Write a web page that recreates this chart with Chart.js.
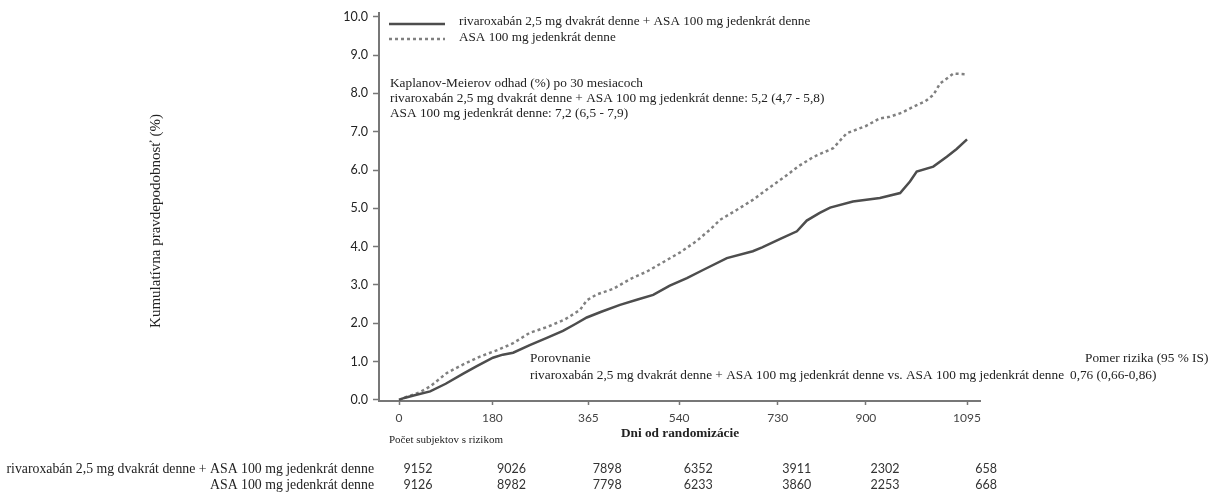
<!DOCTYPE html>
<html>
<head>
<meta charset="utf-8">
<script src="https://cdn.jsdelivr.net/npm/chart.js@4"></script>
<style>
html,body{margin:0;padding:0;background:#fff;}
#wrap{width:1208px;height:495px;position:relative;}
</style>
</head>
<body>
<div id="wrap"><canvas id="c" width="1208" height="495"></canvas></div>
<script>
// ---- data ----
const xTicks = [0, 180, 365, 540, 730, 900, 1095];
const yTicks = [0, 1, 2, 3, 4, 5, 6, 7, 8, 9, 10];

const rivaDays = [0, 10, 30, 60, 90, 123, 150, 181, 200, 220, 252, 285, 316, 340, 362, 390, 426, 460, 490, 522, 555, 586, 632, 682, 700, 735, 767, 786, 811, 831, 875, 927, 966, 985, 998, 1030, 1056, 1075, 1095];
const rivaVals = [0, 0.05, 0.12, 0.22, 0.42, 0.68, 0.88, 1.1, 1.18, 1.23, 1.43, 1.62, 1.8, 1.98, 2.15, 2.3, 2.48, 2.62, 2.74, 2.98, 3.18, 3.39, 3.7, 3.88, 3.98, 4.2, 4.4, 4.68, 4.88, 5.02, 5.18, 5.27, 5.4, 5.7, 5.96, 6.09, 6.35, 6.55, 6.8];

const asaDays = [0, 15, 40, 60, 92, 120, 156, 190, 220, 252, 285, 320, 349, 362, 381, 413, 445, 478, 510, 542, 574, 600, 619, 650, 682, 700, 748, 770, 800, 837, 863, 900, 927, 946, 970, 991, 1015, 1030, 1043, 1069, 1095];
const asaVals = [0, 0.08, 0.2, 0.35, 0.7, 0.9, 1.13, 1.3, 1.48, 1.75, 1.9, 2.1, 2.35, 2.6, 2.75, 2.9, 3.15, 3.35, 3.6, 3.85, 4.15, 4.45, 4.7, 4.95, 5.22, 5.4, 5.87, 6.1, 6.35, 6.57, 6.96, 7.15, 7.35, 7.39, 7.5, 7.65, 7.8, 7.96, 8.26, 8.52, 8.5];

const seriesNames = ["rivaroxabán 2,5 mg dvakrát denne + ASA 100 mg jedenkrát denne", "ASA 100 mg jedenkrát denne"];
const rivaAtRisk = [9152, 9026, 7898, 6352, 3911, 2302, 658];
const asaAtRisk = [9126, 8982, 7798, 6233, 3860, 2253, 668];

const yTitle = "Kumulatívna pravdepodobnosť (%)";
const xTitle = "Dni od randomizácie";
const kmLines = ["Kaplanov-Meierov odhad (%) po 30 mesiacoch",
  "rivaroxabán 2,5 mg dvakrát denne + ASA 100 mg jedenkrát denne: 5,2 (4,7 - 5,8)",
  "ASA 100 mg jedenkrát denne: 7,2 (6,5 - 7,9)"];
const cmpLines = ["Porovnanie", "rivaroxabán 2,5 mg dvakrát denne + ASA 100 mg jedenkrát denne vs. ASA 100 mg jedenkrát denne"];
const hrLines = ["Pomer rizika (95 % IS)", "0,76 (0,66-0,86)"];
const riskTitle = "Počet subjektov s rizikom";

const SERIF = "'Liberation Serif', 'Times New Roman', serif";
const SANS = "Lato, 'Liberation Sans', sans-serif";
const solidColor = '#4d4d4d';
const dashColor = '#808080';

const toPts = (d, v) => d.map((x, i) => ({x: x, y: v[i]}));

const textPlugin = {
  id: 'texts',
  afterDraw(chart) {
    const ctx = chart.ctx;
    const xs = chart.scales.x;
    ctx.save();
    ctx.fillStyle = '#222';
    ctx.textBaseline = 'middle';
    // legend
    ctx.lineWidth = 2.5;
    ctx.strokeStyle = solidColor;
    ctx.setLineDash([]);
    ctx.beginPath(); ctx.moveTo(389, 24); ctx.lineTo(445, 24); ctx.stroke();
    ctx.strokeStyle = dashColor;
    ctx.setLineDash([3, 3]);
    ctx.beginPath(); ctx.moveTo(389, 39); ctx.lineTo(445, 39); ctx.stroke();
    ctx.setLineDash([]);
    ctx.font = "13.2px " + SERIF;
    ctx.textAlign = 'left';
    ctx.fillText(seriesNames[0], 459, 22);
    ctx.fillText(seriesNames[1], 459, 38);
    // KM block
    ctx.font = "13.3px " + SERIF;
    ctx.fillText(kmLines[0], 390, 84);
    ctx.fillText(kmLines[1], 390, 99);
    ctx.fillText(kmLines[2], 390, 114);
    // comparison
    ctx.fillText(cmpLines[0], 530, 359);
    ctx.fillText(cmpLines[1], 530, 376);
    ctx.fillText(hrLines[0], 1085, 359);
    ctx.fillText(hrLines[1], 1070, 376);
    // y title
    ctx.save();
    ctx.font = "15px " + SERIF;
    ctx.translate(156, 221);
    ctx.rotate(-Math.PI / 2);
    ctx.textAlign = 'center';
    ctx.fillText(yTitle, 0, 0);
    ctx.restore();
    // x title
    ctx.font = "bold 13.3px " + SERIF;
    ctx.textAlign = 'center';
    ctx.fillText(xTitle, 680, 434);
    // risk table
    ctx.font = "11px " + SERIF;
    ctx.textAlign = 'left';
    ctx.fillText(riskTitle, 389, 440);
    ctx.font = "13.8px " + SERIF;
    ctx.textAlign = 'right';
    ctx.fillText(seriesNames[0], 374, 469);
    ctx.fillText(seriesNames[1], 374, 485);
    ctx.font = "12.5px " + SANS;
    ctx.fillStyle = '#333';
    ctx.textAlign = 'center';
    xTicks.forEach((t, i) => {
      const px = xs.getPixelForValue(t) + 19;
      ctx.fillText(String(rivaAtRisk[i]), px, 469);
      ctx.fillText(String(asaAtRisk[i]), px, 485);
    });
    ctx.restore();
  }
};

new Chart(document.getElementById('c'), {
  type: 'line',
  data: {
    datasets: [
      {label: seriesNames[0], data: toPts(rivaDays, rivaVals), borderColor: solidColor, borderWidth: 2.5, pointRadius: 0, tension: 0, fill: false},
      {label: seriesNames[1], data: toPts(asaDays, asaVals), borderColor: dashColor, borderWidth: 2.5, borderDash: [3, 3], pointRadius: 0, tension: 0, fill: false}
    ]
  },
  options: {
    responsive: false,
    animation: false,
    events: [],
    layout: {padding: {left: 0, right: 228, top: 13, bottom: 64}},
    plugins: {legend: {display: false}, tooltip: {enabled: false}},
    scales: {
      x: {
        type: 'linear', min: -38.6, max: 1120,
        afterBuildTicks: s => { s.ticks = xTicks.map(v => ({value: v})); },
        afterFit: s => { s.height = 30; },
        grid: {drawOnChartArea: false, drawTicks: true, tickLength: 4, color: '#777', tickWidth: 1.5},
        border: {color: '#777', width: 2},
        ticks: {color: '#444', font: {family: SANS, size: 12}, padding: 6, maxRotation: 0, autoSkip: false, callback: v => String(v)}
      },
      y: {
        type: 'linear', min: -0.03, max: 10.1,
        afterBuildTicks: s => { s.ticks = yTicks.map(v => ({value: v})); },
        afterFit: s => { s.width = 379; },
        grid: {drawOnChartArea: false, drawTicks: true, tickLength: 6, color: '#777', tickWidth: 1.5},
        border: {color: '#777', width: 2},
        ticks: {color: '#222', font: {family: SANS, size: 12.5}, padding: 5, callback: v => Number(v).toFixed(1)}
      }
    }
  },
  plugins: [textPlugin]
});
</script>
</body>
</html>
